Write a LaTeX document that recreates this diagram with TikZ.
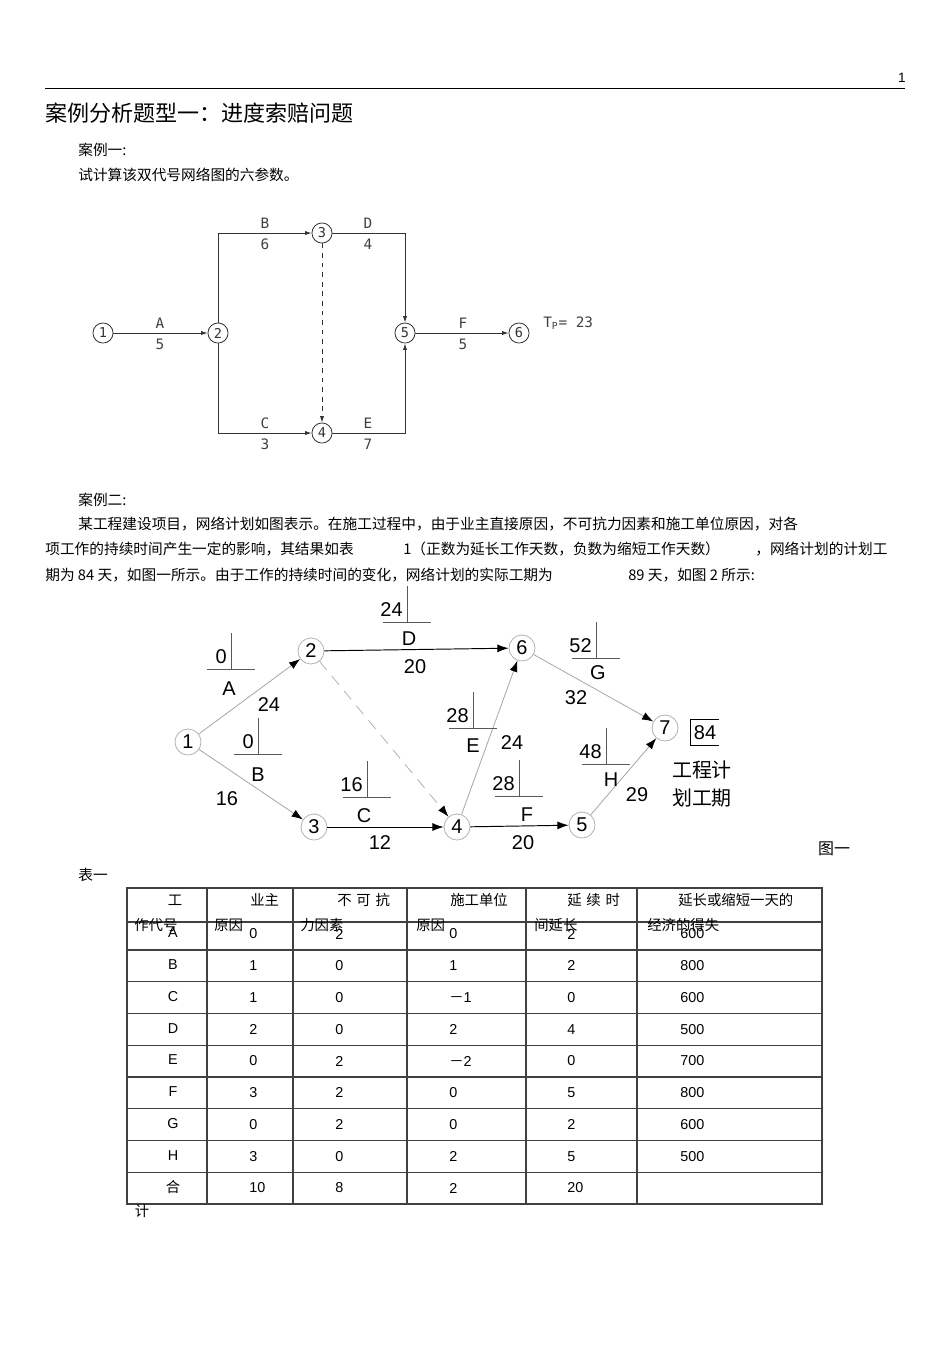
\documentclass[tikz,border=0pt]{standalone}
\usepackage{fontspec}
\setmainfont{Liberation Sans}
\newfontfamily\cjk{Noto Sans CJK SC}
\newfontfamily\cad{DejaVu Sans Mono}
\usetikzlibrary{arrows.meta,positioning}

%% free-float mark: number above the corner of an L-shaped tick
\newcommand{\ffmark}[4]{%
  \draw[mk] (#2,#3-36) -- (#2,#3);
  \draw[mk] (#2-24,#3) -- (#2+24,#3);
  \node[lbl,anchor=south east] (#1) at (#2-4,#3-5) {#4};}

\begin{document}
\begin{tikzpicture}[x=0.6264pt,y=-0.6264pt,
    every node/.style={inner sep=0pt},
    txt/.style={anchor=west,font=\cjk\fontsize{9.2pt}{11pt}\selectfont},
    ev1/.style={circle,draw=black!80,line width=0.5pt,minimum size=12.6pt,
      font=\cad\fontsize{8.5pt}{9pt}\selectfont,text=black!80},
    cadlbl/.style={font=\cad\fontsize{9pt}{10pt}\selectfont,text=black!75},
    arrA/.style={-{Latex[length=4pt,width=2.6pt]},line width=0.5pt,draw=black!80},
    ev/.style={circle,draw=black!30,fill=white,line width=0.5pt,
      minimum size=16.3pt,font=\fontsize{12.5pt}{13pt}\selectfont},
    lbl/.style={font=\fontsize{12.5pt}{13pt}\selectfont},
    ln/.style={draw=black!35,line width=0.5pt,-{Latex[length=7pt,width=5pt,color=black]}},
    lnk/.style={draw=black,line width=0.6pt,-{Latex[length=7pt,width=5pt,color=black]}},
    dsh/.style={draw=black!30,line width=0.5pt,dash pattern=on 7pt off 5pt,
      -{Latex[length=7pt,width=5pt,color=black]}},
    mk/.style={draw=black!65,line width=0.6pt},
    tbl/.style={draw=black!75,line width=0.8pt},
    cell/.style={font=\fontsize{9pt}{10pt}\selectfont},
    hcell/.style={font=\cjk\fontsize{9pt}{10pt}\selectfont}]
  \path[fill=white,use as bounding box] (0,0) rectangle (950,1345);

  %% page head
  \node[font=\fontsize{8.5pt}{9pt}\selectfont] (pgno) at (902,78) {1};
  \draw[line width=0.6pt] (45,88) -- (905,88);
  \node[anchor=west,font=\cjk\fontsize{13.8pt}{16pt}\selectfont] (title) at (45,113)
    {案例分析题型一：进度索赔问题};
  \node[txt] (case1) at (78,150) {案例一:};
  \node[txt] (task1) at (78,175) {试计算该双代号网络图的六参数。};

  %% case 1 network
  \node[ev1] (a1) at (103,333) {1};
  \node[ev1] (a2) at (218,333) {2};
  \node[ev1] (a3) at (322,233) {3};
  \node[ev1] (a4) at (322,433) {4};
  \node[ev1] (a5) at (405,333) {5};
  \node[ev1] (a6) at (519,333) {6};
  \coordinate (a2u) at (218,233);
  \coordinate (a2d) at (218,433);
  \coordinate (a3r) at (405,233);
  \coordinate (a4r) at (405,433);
  \draw[arrA] (a1) -- (a2);
  \draw[arrA] (a2) -- (a2u) -- (a3);
  \draw[arrA] (a2) -- (a2d) -- (a4);
  \draw[arrA] (a3) -- (a3r) -- (a5);
  \draw[arrA] (a4) -- (a4r) -- (a5);
  \draw[arrA,dashed] (a3) -- (a4);
  \draw[arrA] (a5) -- (a6);
  \node[cadlbl] (wA) at (160,323) {A};
  \node[cadlbl] (dA) at (160,344) {5};
  \node[cadlbl] (wB) at (265,223) {B};
  \node[cadlbl] (dB) at (265,244) {6};
  \node[cadlbl] (wD) at (368,223) {D};
  \node[cadlbl] (dD) at (368,244) {4};
  \node[cadlbl] (wC) at (265,423) {C};
  \node[cadlbl] (dC) at (265,444) {3};
  \node[cadlbl] (wE) at (368,423) {E};
  \node[cadlbl] (dE) at (368,444) {7};
  \node[cadlbl] (wF) at (463,323) {F};
  \node[cadlbl] (dF) at (463,344) {5};
  \node[cadlbl,anchor=west] (tp) at (543,323) {T\textsubscript{P}= 23};

  %% case 2 text
  \node[txt] (case2) at (78,500) {案例二:};
  \node[txt] (par1) at (78,524)
    {某工程建设项目，网络计划如图表示。在施工过程中，由于业主直接原因，不可抗力因素和施工单位原因，对各};
  \node[txt] (par2a) at (45,549) {项工作的持续时间产生一定的影响，其结果如表};
  \node[txt] (par2b) at (403,549) {1（正数为延长工作天数，负数为缩短工作天数）};
  \node[txt] (par2c) at (755,549) {，网络计划的计划工};
  \node[txt] (par3a) at (45,575)
    {期为 84 天，如图一所示。由于工作的持续时间的变化，网络计划的实际工期为};
  \node[txt] (par3b) at (628,575) {89 天，如图 2 所示:};

  %% case 2 network
  \node[ev] (n1) at (188,742) {1};
  \node[ev] (n2) at (311,651) {2};
  \node[ev] (n3) at (314,827) {3};
  \node[ev] (n4) at (457,827) {4};
  \node[ev] (n5) at (582,825) {5};
  \node[ev] (n6) at (522,648) {6};
  \node[ev] (n7) at (665,728) {7};
  \draw[ln]  (n1) -- (n2);
  \draw[ln]  (n1) -- (n3);
  \draw[lnk] (n2) -- (n6);
  \draw[dsh] (n2) -- (n4);
  \draw[lnk] (n3) -- (n4);
  \draw[ln]  (n4) -- (n6);
  \draw[lnk] (n4) -- (n5);
  \draw[ln]  (n6) -- (n7);
  \draw[ln]  (n5) -- (n7);

  \node[lbl] (jD) at (409,639) {D};
  \node[lbl] (tD) at (415,667) {20};
  \node[lbl] (jA) at (229,689) {A};
  \node[lbl] (tA) at (269,705) {24};
  \node[lbl] (jB) at (258,775) {B};
  \node[lbl] (tB) at (227,799) {16};
  \node[lbl] (jC) at (364,816) {C};
  \node[lbl] (tC) at (380,843) {12};
  \node[lbl] (jE) at (473,746) {E};
  \node[lbl] (tE) at (512,743) {24};
  \node[lbl] (jF) at (527,815) {F};
  \node[lbl] (tF) at (523,843) {20};
  \node[lbl] (jG) at (598,673) {G};
  \node[lbl] (tG) at (576,698) {32};
  \node[lbl] (jH) at (611,780) {H};
  \node[lbl] (tH) at (637,795) {29};

  \ffmark{fD}{407}{622}{24}
  \ffmark{fA}{231}{669}{0}
  \ffmark{fB}{258}{754}{0}
  \ffmark{fC}{367}{797}{16}
  \ffmark{fE}{473}{728}{28}
  \ffmark{fF}{519}{796}{28}
  \ffmark{fG}{596}{658}{52}
  \ffmark{fH}{606}{764}{48}

  \node[lbl] (tp2) at (705,733) {84};
  \draw[line width=0.6pt] (719,719) -- (690,719) -- (690,745) -- (719,745);
  \node[font=\cjk\fontsize{12.5pt}{14pt}\selectfont] (tpa) at (702,770) {工程计};
  \node[font=\cjk\fontsize{12.5pt}{14pt}\selectfont] (tpb) at (702,798) {划工期};
  \node[font=\cjk\fontsize{10pt}{12pt}\selectfont] (fig1) at (834,849) {图一};

  %% table 1
  \node[txt] (tab1) at (78,875) {表一};
  \draw[tbl] (127,888) rectangle (822,1204);
  \draw[tbl] (127,922) -- (822,922);
  \foreach \i in {0,...,7}
    \draw[tbl] (127,{950+31.75*\i}) -- (822,{950+31.75*\i});
  \foreach \xx in {207,293,407,526,637}
    \draw[tbl] (\xx,888) -- (\xx,1204);

  \node[hcell] (h1a) at (175,900) {工};
  \node[hcell,anchor=west] (h2a) at (250,900) {业主};
  \node[hcell,anchor=west] (h3a) at (337,900) {不\hspace{3pt}可\hspace{3pt}抗};
  \node[hcell,anchor=west] (h4a) at (450,900) {施工单位};
  \node[hcell,anchor=west] (h5a) at (567,900) {延\hspace{3pt}续\hspace{3pt}时};
  \node[hcell,anchor=west] (h6a) at (678,900) {延长或缩短一天的};
  \node[hcell,anchor=west] (h1b) at (134,925) {作代号};
  \node[hcell,anchor=west] (h2b) at (214,925) {原因};
  \node[hcell,anchor=west] (h3b) at (300,925) {力因素};
  \node[hcell,anchor=west] (h4b) at (416,925) {原因};
  \node[hcell,anchor=west] (h5b) at (534,925) {间延长};
  \node[hcell,anchor=west] (h6b) at (647,925) {经济的得失};

  \foreach \k/\a/\b/\c/\d/\e [count=\i from 0] in
      {A/0/2/0/2/600, B/1/0/1/2/800, C/1/0/{{\cjk －}1}/0/600,
       D/2/0/2/4/500, E/0/2/{{\cjk －}2}/0/700, F/3/2/0/5/800,
       G/0/2/0/2/600, H/3/0/2/5/500, {{\cjk 合}}/10/8/2/20/{}} {
    \node[cell] (k\i) at (173,{933+31.75*\i}) {\k};
    \node[cell,anchor=west] (a\i) at (249,{934+31.75*\i}) {\a};
    \node[cell,anchor=west] (b\i) at (335,{934+31.75*\i}) {\b};
    \node[cell,anchor=west] (c\i) at (449,{934+31.75*\i}) {\c};
    \node[cell,anchor=west] (d\i) at (567,{934+31.75*\i}) {\d};
    \node[cell,anchor=west] (e\i) at (680,{934+31.75*\i}) {\e};
  }
  \node[hcell] (tot) at (142,1211) {计};
\end{tikzpicture}
\end{document}
